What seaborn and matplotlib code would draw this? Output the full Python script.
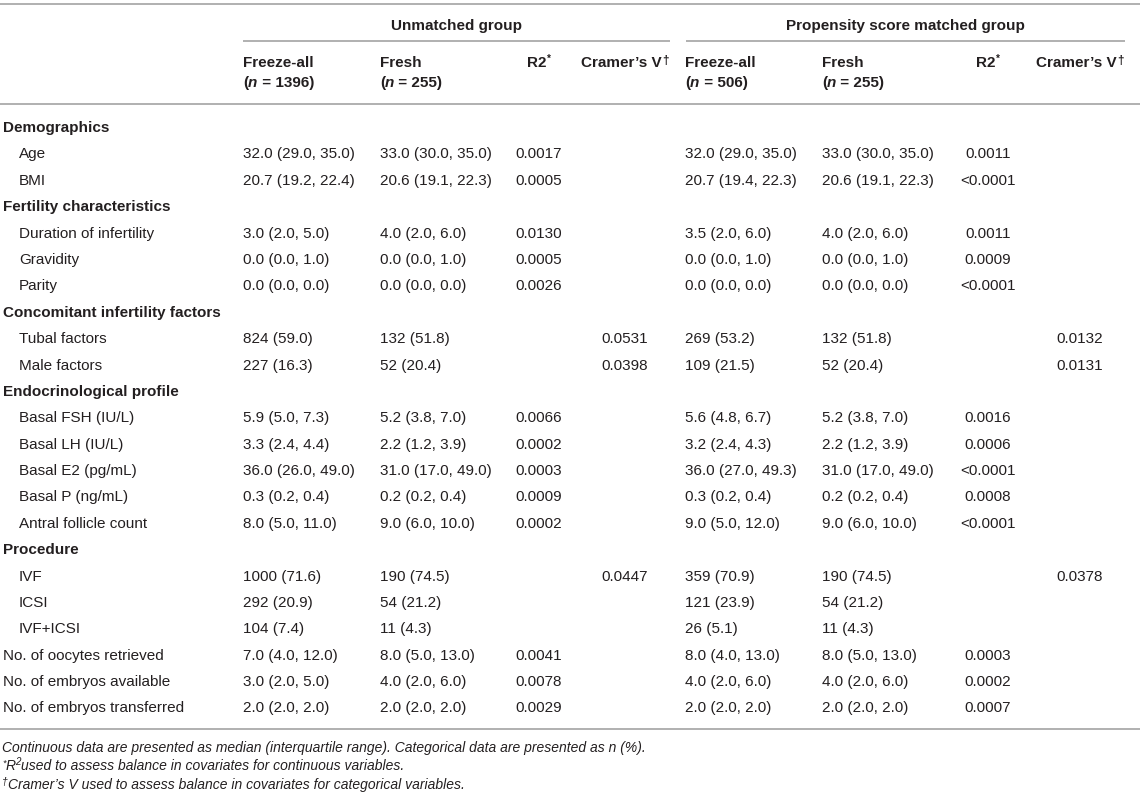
import pandas as pd
import matplotlib
matplotlib.use("Agg")
import matplotlib.pyplot as plt
import seaborn as sns

sns.set_theme(style="white")
plt.rcParams['font.family'] = ['Liberation Sans', 'DejaVu Sans']

# Table content
row_labels = [
    "Demographics", "Age", "BMI",
    "Fertility characteristics", "Duration of infertility", "Gravidity", "Parity",
    "Concomitant infertility factors", "Tubal factors", "Male factors",
    "Endocrinological profile", "Basal FSH (IU/L)", "Basal LH (IU/L)",
    "Basal E2 (pg/mL)", "Basal P (ng/mL)", "Antral follicle count",
    "Procedure", "IVF", "ICSI", "IVF+ICSI",
    "No. of oocytes retrieved", "No. of embryos available", "No. of embryos transferred",
]
row_kind = [
    "section", "item", "item",
    "section", "item", "item", "item",
    "section", "item", "item",
    "section", "item", "item", "item", "item", "item",
    "section", "item", "item", "item",
    "plain", "plain", "plain",
]
unmatched_freeze = [
    "", "32.0 (29.0, 35.0)", "20.7 (19.2, 22.4)",
    "", "3.0 (2.0, 5.0)", "0.0 (0.0, 1.0)", "0.0 (0.0, 0.0)",
    "", "824 (59.0)", "227 (16.3)",
    "", "5.9 (5.0, 7.3)", "3.3 (2.4, 4.4)", "36.0 (26.0, 49.0)", "0.3 (0.2, 0.4)", "8.0 (5.0, 11.0)",
    "", "1000 (71.6)", "292 (20.9)", "104 (7.4)",
    "7.0 (4.0, 12.0)", "3.0 (2.0, 5.0)", "2.0 (2.0, 2.0)",
]
unmatched_fresh = [
    "", "33.0 (30.0, 35.0)", "20.6 (19.1, 22.3)",
    "", "4.0 (2.0, 6.0)", "0.0 (0.0, 1.0)", "0.0 (0.0, 0.0)",
    "", "132 (51.8)", "52 (20.4)",
    "", "5.2 (3.8, 7.0)", "2.2 (1.2, 3.9)", "31.0 (17.0, 49.0)", "0.2 (0.2, 0.4)", "9.0 (6.0, 10.0)",
    "", "190 (74.5)", "54 (21.2)", "11 (4.3)",
    "8.0 (5.0, 13.0)", "4.0 (2.0, 6.0)", "2.0 (2.0, 2.0)",
]
unmatched_r2 = [
    "", "0.0017", "0.0005",
    "", "0.0130", "0.0005", "0.0026",
    "", "", "",
    "", "0.0066", "0.0002", "0.0003", "0.0009", "0.0002",
    "", "", "", "",
    "0.0041", "0.0078", "0.0029",
]
unmatched_cv = [
    "", "", "",
    "", "", "", "",
    "", "0.0531", "0.0398",
    "", "", "", "", "", "",
    "", "0.0447", "", "",
    "", "", "",
]
matched_freeze = [
    "", "32.0 (29.0, 35.0)", "20.7 (19.4, 22.3)",
    "", "3.5 (2.0, 6.0)", "0.0 (0.0, 1.0)", "0.0 (0.0, 0.0)",
    "", "269 (53.2)", "109 (21.5)",
    "", "5.6 (4.8, 6.7)", "3.2 (2.4, 4.3)", "36.0 (27.0, 49.3)", "0.3 (0.2, 0.4)", "9.0 (5.0, 12.0)",
    "", "359 (70.9)", "121 (23.9)", "26 (5.1)",
    "8.0 (4.0, 13.0)", "4.0 (2.0, 6.0)", "2.0 (2.0, 2.0)",
]
matched_fresh = [
    "", "33.0 (30.0, 35.0)", "20.6 (19.1, 22.3)",
    "", "4.0 (2.0, 6.0)", "0.0 (0.0, 1.0)", "0.0 (0.0, 0.0)",
    "", "132 (51.8)", "52 (20.4)",
    "", "5.2 (3.8, 7.0)", "2.2 (1.2, 3.9)", "31.0 (17.0, 49.0)", "0.2 (0.2, 0.4)", "9.0 (6.0, 10.0)",
    "", "190 (74.5)", "54 (21.2)", "11 (4.3)",
    "8.0 (5.0, 13.0)", "4.0 (2.0, 6.0)", "2.0 (2.0, 2.0)",
]
matched_r2 = [
    "", "0.0011", "<0.0001",
    "", "0.0011", "0.0009", "<0.0001",
    "", "", "",
    "", "0.0016", "0.0006", "<0.0001", "0.0008", "<0.0001",
    "", "", "", "",
    "0.0003", "0.0002", "0.0007",
]
matched_cv = [
    "", "", "",
    "", "", "", "",
    "", "0.0132", "0.0131",
    "", "", "", "", "", "",
    "", "0.0378", "", "",
    "", "", "",
]
group_titles = ["Unmatched group", "Propensity score matched group"]
group_n = [("1396", "255"), ("506", "255")]
footnote_main = ("Continuous data are presented as median (interquartile range). "
                 "Categorical data are presented as n (%).")

df = pd.DataFrame({
    "label": row_labels, "kind": row_kind,
    "u_freeze": unmatched_freeze, "u_fresh": unmatched_fresh,
    "u_r2": unmatched_r2, "u_cv": unmatched_cv,
    "m_freeze": matched_freeze, "m_fresh": matched_fresh,
    "m_r2": matched_r2, "m_cv": matched_cv,
})

TXT = "#231f20"
LINE = "#a3a3a3"
FS = 11
W, H = 1145, 797

fig = plt.figure(figsize=(W / 100, H / 100), dpi=100)
ax = fig.add_axes([0, 0, 1, 1])
ax.set_xlim(0, W)
ax.set_ylim(H, 0)
ax.axis("off")
renderer = fig.canvas.get_renderer()


def draw_runs(x, yc, runs, ha="left", size=FS):
    # draw text made of several styled pieces next to each other
    arts, widths = [], []
    for txt, kw in runs:
        kw = dict(kw)
        dy = kw.pop("dy", 0)
        t = ax.text(0, yc - dy, txt, color=TXT, fontsize=kw.pop("fontsize", size),
                    va="baseline", ha="left", **kw)
        arts.append(t)
        widths.append(t.get_window_extent(renderer=renderer).width)
    start = x - sum(widths) / 2 if ha == "center" else x
    for t, w in zip(arts, widths):
        t.set_x(start)
        start += w


# layout (pixels)
base = 5.5
col_x = {"u_freeze": 243, "u_fresh": 380, "m_freeze": 685, "m_fresh": 822}
col_c = {"u_r2": 539, "u_cv": 625, "m_r2": 988, "m_cv": 1080}
group_span = [(243, 670), (686, 1125)]
row_y0, row_h = 126.6, 26.38

# rules
ax.hlines([4, 104, 729], 0, 1140, color=LINE, lw=1.2)
for x0, x1 in group_span:
    ax.hlines(41, x0, x1, color=LINE, lw=1.2)

# header
B = {"fontweight": "bold"}
for (x0, x1), title in zip(group_span, group_titles):
    ax.text((x0 + x1) / 2, 24 + base, title, color=TXT, fontsize=FS, fontweight="bold",
            ha="center", va="baseline")
for side, (n_fz, n_fr) in zip(["u", "m"], group_n):
    for key, name, n in [("freeze", "Freeze-all", n_fz), ("fresh", "Fresh", n_fr)]:
        x = col_x[f"{side}_{key}"]
        draw_runs(x, 61 + base, [(name, B)])
        draw_runs(x, 81 + base, [("(", B), ("n", {"fontweight": "bold", "fontstyle": "italic"}),
                                 (" = " + n + ")", B)])
    draw_runs(col_c[f"{side}_r2"], 61 + base,
              [("R2", B), ("*", {"fontweight": "bold", "fontsize": 7, "dy": 5})], ha="center")
    draw_runs(col_c[f"{side}_cv"], 61 + base,
              [("Cramer\u2019s V", B), ("\u2020", {"fontweight": "bold", "fontsize": 8.5, "dy": 3})],
              ha="center")

# body
for i, row in df.iterrows():
    y = row_y0 + i * row_h + base
    if row["kind"] == "section":
        ax.text(3, y, row["label"], color=TXT, fontsize=FS, fontweight="bold", va="baseline")
        continue
    lx = 19 if row["kind"] == "item" else 3
    ax.text(lx, y, row["label"], color=TXT, fontsize=FS, va="baseline")
    for key, x in col_x.items():
        ax.text(x, y, row[key], color=TXT, fontsize=FS, va="baseline")
    for key, x in col_c.items():
        ax.text(x, y, row[key], color=TXT, fontsize=FS, va="baseline", ha="center")

# footnotes
IT = {"fontstyle": "italic"}
fs_note = 10
draw_runs(2, 747 + 5, [(footnote_main, IT)], size=fs_note)
draw_runs(2, 765 + 5, [("*", {"fontstyle": "italic", "fontsize": 6.5, "dy": 4}), ("R", IT),
                       ("2", {"fontstyle": "italic", "fontsize": 7, "dy": 5}),
                       ("used to assess balance in covariates for continuous variables.", IT)],
          size=fs_note)
draw_runs(2, 784 + 5, [("\u2020", {"fontstyle": "italic", "fontsize": 7.5, "dy": 4}),
                       ("Cramer\u2019s V used to assess balance in covariates for categorical variables.", IT)],
          size=fs_note)

fig.savefig("out.png", dpi=100, facecolor="white")
